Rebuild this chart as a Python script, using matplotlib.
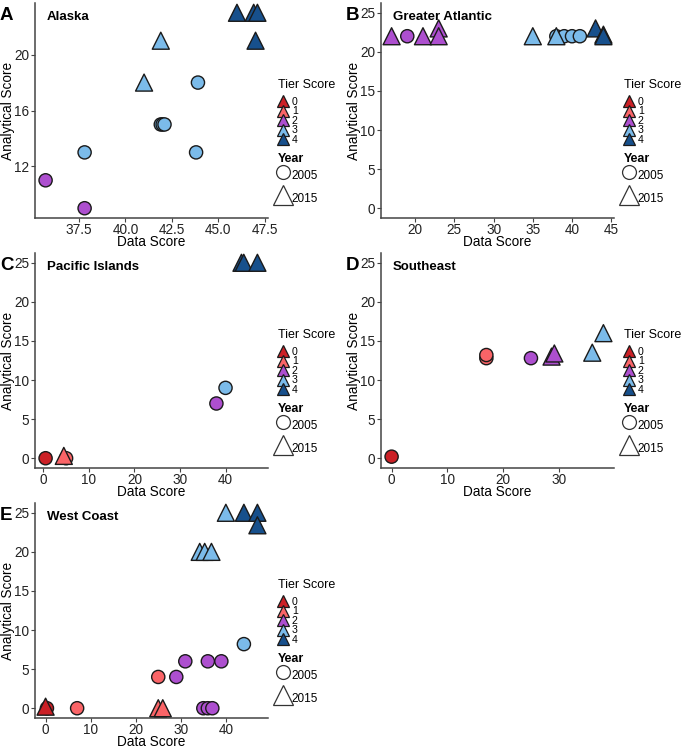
import numpy as np
import matplotlib.pyplot as plt
from matplotlib.lines import Line2D

plt.rcParams['font.family'] = ['Liberation Sans', 'DejaVu Sans']

# tier colours (0..4)
tier_colors = ['#CB2026', '#FA6467', '#AD4FCF', '#7BBBEA', '#17508C']
tier_labels = ['0', '1', '2', '3', '4']

# Alaska
ak_data = [35.7, 37.8, 37.8, 41.9, 42.0, 42.1, 43.9, 43.8, 41.0, 41.9, 46.0, 46.9, 47.1, 47.0]
ak_anal = [11, 9, 13, 15, 15, 15, 18, 13, 18, 21, 23, 23, 23, 21]
ak_tier = [2, 2, 3, 3, 3, 3, 3, 3, 3, 3, 4, 4, 4, 4]
ak_year = [2005, 2005, 2005, 2005, 2005, 2005, 2005, 2005, 2015, 2015, 2015, 2015, 2015, 2015]

# Greater Atlantic
ga_data = [19, 38, 39, 40, 41, 17, 21, 23, 23, 35, 38, 43, 44, 44]
ga_anal = [22, 22, 22, 22, 22, 22, 22, 23, 22, 22, 22, 23, 22.2, 22]
ga_tier = [2, 3, 3, 3, 3, 2, 2, 2, 2, 3, 3, 4, 4, 4]
ga_year = [2005, 2005, 2005, 2005, 2005, 2015, 2015, 2015, 2015, 2015, 2015, 2015, 2015, 2015]

# Pacific Islands
pi_data = [0.5, 5.0, 38.0, 40.0, 4.5, 43.5, 44.0, 47.0]
pi_anal = [0, 0, 7, 9, 0.3, 25, 25, 25]
pi_tier = [0, 1, 2, 3, 1, 4, 4, 4]
pi_year = [2005, 2005, 2005, 2005, 2015, 2015, 2015, 2015]

# Southeast
se_data = [0, 17, 17, 25, 28.7, 29.2, 36, 38]
se_anal = [0.2, 12.8, 13.2, 12.8, 13.0, 13.4, 13.5, 16]
se_tier = [0, 1, 1, 2, 2, 2, 3, 3]
se_year = [2005, 2005, 2005, 2005, 2015, 2015, 2015, 2015]

# West Coast
wc_data = [0.3, 7, 25, 29, 31, 36, 39, 35, 36, 37, 44,
           0, 25, 26, 34.2, 35.3, 36.8, 40, 44, 47, 47]
wc_anal = [0, 0, 4, 4, 6, 6, 6, 0, 0, 0, 8.2,
           0.2, 0, 0, 20, 20, 20, 25, 25, 25, 23.4]
wc_tier = [0, 1, 1, 2, 2, 2, 2, 2, 2, 2, 3,
           0, 1, 1, 3, 3, 3, 3, 4, 4, 4]
wc_year = [2005] * 11 + [2015] * 10

panels = [
    ('A', 'Alaska', ak_data, ak_anal, ak_tier, ak_year,
     [37.5, 40.0, 42.5, 45.0, 47.5], '{:.1f}', [12, 16, 20], None),
    ('B', 'Greater Atlantic', ga_data, ga_anal, ga_tier, ga_year,
     [20, 25, 30, 35, 40, 45], '{:d}', [0, 5, 10, 15, 20, 25], (0, 25)),
    ('C', 'Pacific Islands', pi_data, pi_anal, pi_tier, pi_year,
     [0, 10, 20, 30, 40], '{:d}', [0, 5, 10, 15, 20, 25], (0, 25)),
    ('D', 'Southeast', se_data, se_anal, se_tier, se_year,
     [0, 10, 20, 30], '{:d}', [0, 5, 10, 15, 20, 25], (0, 25)),
    ('E', 'West Coast', wc_data, wc_anal, wc_tier, wc_year,
     [0, 10, 20, 30, 40], '{:d}', [0, 5, 10, 15, 20, 25], (0, 25)),
]

W, H = 685, 748
fig = plt.figure(figsize=(W / 100, H / 100), dpi=100)

# axes boxes in pixels: left, top
boxes = [(35, 3), (381, 3), (35, 253), (381, 253), (35, 503)]
ax_w, ax_h = 233, 215

edge = '#1a1a1a'
axis_col = '#444444'


def expand(lo, hi, f=0.05):
    d = (hi - lo) * f
    return lo - d, hi + d


def px_y(p):
    # pixel offset below axes top -> axes fraction
    return 1 - p / ax_h


def px_x(p):
    # pixel offset right of axes left -> axes fraction
    return p / ax_w


for (letter, title, xs, ys, tiers, years, xt, fmt, yt, yfix), (lpx, tpx) in zip(panels, boxes):
    ax = fig.add_axes([lpx / W, 1 - (tpx + ax_h) / H, ax_w / W, ax_h / H])
    xs = np.array(xs, dtype=float)
    ys = np.array(ys, dtype=float)
    tiers = np.array(tiers)
    years = np.array(years)
    cols = [tier_colors[t] for t in tiers]

    for yr, mk, sz in [(2005, 'o', 90), (2015, '^', 150)]:
        m = years == yr
        ax.scatter(xs[m], ys[m], s=sz, marker=mk,
                   c=[c for c, k in zip(cols, m) if k],
                   edgecolors=edge, linewidths=1.0, zorder=3, clip_on=False)

    ax.set_xlim(*expand(xs.min(), xs.max()))
    if yfix is None:
        ax.set_ylim(*expand(ys.min(), ys.max()))
    else:
        ax.set_ylim(*expand(*yfix))

    ax.set_xticks(xt)
    ax.set_xticklabels([fmt.format(v) for v in xt])
    ax.set_yticks(yt)
    for s in ['top', 'right']:
        ax.spines[s].set_visible(False)
    for s in ['left', 'bottom']:
        ax.spines[s].set_color(axis_col)
        ax.spines[s].set_linewidth(1.1)
    ax.tick_params(colors=axis_col, labelcolor='#222222', labelsize=9.8,
                   length=3, width=0.8, pad=1.0)
    ax.tick_params(axis='x', pad=0.5)
    ax.set_xlabel('Data Score', fontsize=9.8)
    ax.set_ylabel('Analytical Score', fontsize=9.8)
    ax.xaxis.set_label_coords(0.5, -0.08)
    ax.yaxis.set_label_coords(-0.087, 0.5)

    ax.text(0.05, 0.965, title, transform=ax.transAxes, fontsize=9.5,
            fontweight='bold', va='top', ha='left')
    fig.text((lpx - 35) / W, 1 - (tpx + 13) / H, letter, fontsize=13.5,
             fontweight='bold', va='center', ha='left')

    # legends: titles as plain text, entries as legends
    ax.text(px_x(243), px_y(82), 'Tier Score', transform=ax.transAxes,
            fontsize=9, va='center', ha='left')
    tier_handles = [Line2D([], [], marker='^', linestyle='none', markersize=8,
                           markerfacecolor=c, markeredgecolor=edge,
                           markeredgewidth=0.9) for c in tier_colors]
    leg1 = ax.legend(tier_handles, tier_labels,
                     loc='upper left', bbox_to_anchor=(px_x(243), px_y(94)),
                     frameon=False, fontsize=7.6,
                     labelspacing=-0.05, handletextpad=0.3, handlelength=1.0,
                     handleheight=0.6, borderpad=0, borderaxespad=0)
    ax.add_artist(leg1)

    ax.text(px_x(243), px_y(156), 'Year', transform=ax.transAxes,
            fontsize=9, fontweight='bold', va='center', ha='left')
    year_handles = [
        Line2D([], [], marker='o', linestyle='none', markersize=10,
               markerfacecolor='white', markeredgecolor='#333333', markeredgewidth=0.9),
        Line2D([], [], marker='^', linestyle='none', markersize=15,
               markerfacecolor='white', markeredgecolor='#333333', markeredgewidth=0.9),
    ]
    ax.legend(year_handles, ['2005', '2015'],
              loc='upper left', bbox_to_anchor=(px_x(240), px_y(163)),
              frameon=False, fontsize=8.5, labelspacing=0.4,
              handletextpad=0.1, handlelength=1.3, handleheight=2.0,
              borderpad=0, borderaxespad=0)

fig.savefig('out.png', dpi=100, facecolor='white')
